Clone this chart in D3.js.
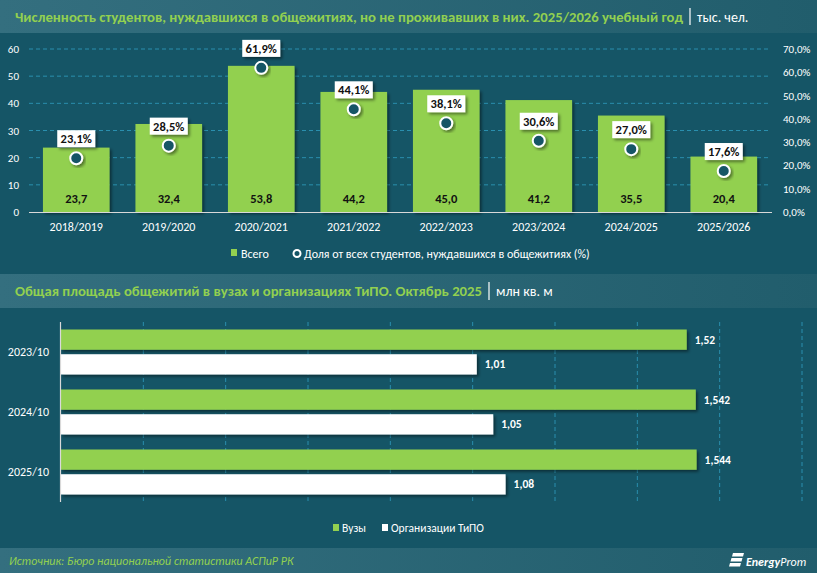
<!DOCTYPE html>
<html>
<head>
<meta charset="utf-8">
<script src="https://cdn.jsdelivr.net/npm/d3@7"></script>
<style>
  html, body { margin: 0; padding: 0; background: #155566; }
  svg { display: block; }
  text { font-family: Carlito, "Liberation Sans", Arial, sans-serif; }
</style>
</head>
<body>
<div id="vis"></div>
<script>
// top chart: students who needed a dorm but did not live in one
const years = ["2018/2019", "2019/2020", "2020/2021", "2021/2022", "2022/2023", "2023/2024", "2024/2025", "2025/2026"];
const total = [23.7, 32.4, 53.8, 44.2, 45.0, 41.2, 35.5, 20.4];
const share = [23.1, 28.5, 61.9, 44.1, 38.1, 30.6, 27.0, 17.6];
const leftTicks = [0, 10, 20, 30, 40, 50, 60];
const rightTicks = [0, 10, 20, 30, 40, 50, 60, 70];

// bottom chart: total dorm area, mln sq m
const periods = ["2023/10", "2024/10", "2025/10"];
const vuzy = [1.52, 1.542, 1.544];
const tipo = [1.01, 1.05, 1.08];
const areaTicks = [0, 0.2, 0.4, 0.6, 0.8, 1.0, 1.2, 1.4, 1.6, 1.8];

const W = 817, H = 573;
const green = "#92d050", bg = "#155566", grid = "#2a8fae";
const comma = v => String(v).replace(".", ",");

const svg = d3.select("#vis").append("svg")
    .attr("width", W)
    .attr("height", H);

const defs = svg.append("defs");
const grad = defs.append("linearGradient").attr("id", "band");
grad.append("stop").attr("offset", "0%").attr("stop-color", "#346f7f");
grad.append("stop").attr("offset", "100%").attr("stop-color", "#215d6c");
defs.append("filter").attr("id", "shadow")
    .attr("x", "-20%").attr("y", "-20%").attr("width", "150%").attr("height", "150%")
    .append("feDropShadow")
    .attr("dx", 2).attr("dy", 2).attr("stdDeviation", 1.6)
    .attr("flood-color", "#000").attr("flood-opacity", 0.45);

svg.append("rect").attr("width", W).attr("height", H).attr("fill", bg);

// header bands
function header(y0, h, title, unit, titleW) {
  svg.append("rect").attr("x", 0).attr("y", y0).attr("width", W).attr("height", h).attr("fill", "url(#band)");
  const cy = y0 + h / 2 + 5;
  svg.append("text").attr("x", 15).attr("y", cy)
      .attr("fill", green).attr("font-weight", "bold").attr("font-size", 14)
      .attr("textLength", titleW).attr("lengthAdjust", "spacingAndGlyphs")
      .text(title);
  svg.append("line").attr("x1", 15 + titleW + 7).attr("x2", 15 + titleW + 7)
      .attr("y1", y0 + 8).attr("y2", y0 + h - 8)
      .attr("stroke", "#fff").attr("stroke-width", 1.2);
  svg.append("text").attr("x", 15 + titleW + 14).attr("y", cy)
      .attr("fill", "#fff").attr("font-size", 14)
      .text(unit);
}
header(0, 33, "Численность студентов, нуждавшихся в общежитиях, но не проживавших в них. 2025/2026 учебный год", "тыс. чел.", 668);
header(274, 34, "Общая площадь общежитий в вузах и организациях ТиПО. Октябрь 2025", "млн кв. м", 467);

// ---------- top chart ----------
const x = d3.scaleBand().domain(years).range([30, 770]).paddingInner(0.28).paddingOuter(0.14);
const y = d3.scaleLinear().domain([0, 60]).range([212, 49]);
const yR = d3.scaleLinear().domain([0, 70]).range([212, 49]);

const topG = svg.append("g");

topG.append("g").selectAll("line").data(leftTicks.slice(1)).join("line")
    .attr("x1", 29).attr("x2", 770)
    .attr("y1", d => y(d)).attr("y2", d => y(d))
    .attr("stroke", grid).attr("stroke-dasharray", "4,3").attr("stroke-width", 1);

topG.append("g").selectAll("text").data(leftTicks).join("text")
    .attr("x", 19).attr("y", d => y(d) + 4)
    .attr("text-anchor", "end").attr("fill", "#fff").attr("font-size", 11)
    .text(d => d);

topG.append("g").selectAll("text").data(rightTicks).join("text")
    .attr("x", 783).attr("y", d => yR(d) + 4)
    .attr("fill", "#fff").attr("font-size", 11)
    .text(d => d.toFixed(1).replace(".", ",") + "%");

topG.append("g").selectAll("rect").data(years).join("rect")
    .attr("x", d => x(d)).attr("width", x.bandwidth())
    .attr("y", (d, i) => y(total[i])).attr("height", (d, i) => y(0) - y(total[i]))
    .attr("fill", green).attr("filter", "url(#shadow)");

topG.append("line").attr("x1", 29).attr("x2", 772).attr("y1", 212.5).attr("y2", 212.5)
    .attr("stroke", "#d9d9d9").attr("stroke-width", 1.2);

topG.append("g").selectAll("text").data(years).join("text")
    .attr("x", d => x(d) + x.bandwidth() / 2).attr("y", 203)
    .attr("text-anchor", "middle").attr("font-weight", "bold").attr("font-size", 12.5).attr("fill", "#111")
    .text((d, i) => total[i].toFixed(1).replace(".", ","));

topG.append("g").selectAll("text").data(years).join("text")
    .attr("x", d => x(d) + x.bandwidth() / 2).attr("y", 231)
    .attr("text-anchor", "middle").attr("fill", "#fff").attr("font-size", 12)
    .text(d => d);

// share markers with boxed labels
const mk = topG.append("g").selectAll("g").data(years).join("g")
    .attr("transform", (d, i) => `translate(${x(d) + x.bandwidth() / 2},${yR(share[i])})`);
mk.append("circle").attr("r", 6)
    .attr("fill", bg).attr("stroke", "#fff").attr("stroke-width", 2)
    .attr("filter", "url(#shadow)");
mk.append("rect").attr("x", -19).attr("y", -28).attr("width", 38).attr("height", 17)
    .attr("fill", "#fff").attr("filter", "url(#shadow)");
mk.append("text").attr("y", -15)
    .attr("text-anchor", "middle").attr("font-weight", "bold").attr("font-size", 12.5).attr("fill", "#111")
    .text((d, i) => share[i].toFixed(1).replace(".", ",") + "%");

// legend
const lg = topG.append("g");
lg.append("rect").attr("x", 231).attr("y", 249).attr("width", 6).attr("height", 7).attr("fill", green);
lg.append("text").attr("x", 241).attr("y", 258).attr("fill", "#fff").attr("font-size", 12).text("Всего");
lg.append("circle").attr("cx", 297).attr("cy", 253.5).attr("r", 3.5)
    .attr("fill", bg).attr("stroke", "#fff").attr("stroke-width", 2);
lg.append("text").attr("x", 304).attr("y", 258).attr("fill", "#fff").attr("font-size", 12)
    .text("Доля от всех студентов, нуждавшихся в общежитиях (%)");

// ---------- bottom chart ----------
const xa = d3.scaleLinear().domain([0, 1.8]).range([61, 802]);
const yg = d3.scaleBand().domain(periods).range([322, 502]).paddingInner(0.25).paddingOuter(0.125);
const ys = d3.scaleBand().domain(["vuzy", "tipo"]).range([0, yg.bandwidth()]).paddingInner(0.18);

const botG = svg.append("g");

botG.append("g").selectAll("line").data(areaTicks.slice(1)).join("line")
    .attr("x1", d => xa(d)).attr("x2", d => xa(d))
    .attr("y1", 322).attr("y2", 502)
    .attr("stroke", grid).attr("stroke-dasharray", "4,3").attr("stroke-width", 1);

const grp = botG.append("g").selectAll("g").data(periods).join("g")
    .attr("transform", d => `translate(0,${yg(d)})`);

grp.append("rect").attr("x", xa(0)).attr("y", ys("vuzy"))
    .attr("width", (d, i) => xa(vuzy[i]) - xa(0)).attr("height", ys.bandwidth())
    .attr("fill", green).attr("filter", "url(#shadow)");
grp.append("rect").attr("x", xa(0)).attr("y", ys("tipo"))
    .attr("width", (d, i) => xa(tipo[i]) - xa(0)).attr("height", ys.bandwidth())
    .attr("fill", "#fff").attr("filter", "url(#shadow)");

grp.append("text").attr("x", (d, i) => xa(vuzy[i]) + 8).attr("y", ys("vuzy") + ys.bandwidth() / 2 + 4)
    .attr("fill", "#fff").attr("font-weight", "bold").attr("font-size", 11.5)
    .text((d, i) => comma(vuzy[i]));
grp.append("text").attr("x", (d, i) => xa(tipo[i]) + 8).attr("y", ys("tipo") + ys.bandwidth() / 2 + 4)
    .attr("fill", "#fff").attr("font-weight", "bold").attr("font-size", 11.5)
    .text((d, i) => comma(tipo[i]));

grp.append("text").attr("x", 49).attr("y", yg.bandwidth() / 2 + 4)
    .attr("text-anchor", "end").attr("fill", "#fff").attr("font-size", 12)
    .text(d => d);

botG.append("line").attr("x1", 60.5).attr("x2", 60.5).attr("y1", 322).attr("y2", 502)
    .attr("stroke", "#d9d9d9").attr("stroke-width", 1.2);

const lg2 = botG.append("g");
lg2.append("rect").attr("x", 333).attr("y", 524).attr("width", 6).attr("height", 7).attr("fill", green);
lg2.append("text").attr("x", 342).attr("y", 532).attr("fill", "#fff").attr("font-size", 11.5).text("Вузы");
lg2.append("rect").attr("x", 382).attr("y", 524).attr("width", 6).attr("height", 7).attr("fill", "#fff");
lg2.append("text").attr("x", 391).attr("y", 532).attr("fill", "#fff").attr("font-size", 11.5).text("Организации ТиПО");

// ---------- footer ----------
svg.append("rect").attr("x", 0).attr("y", 548).attr("width", W).attr("height", 25).attr("fill", "url(#band)");
svg.append("text").attr("x", 9).attr("y", 565)
    .attr("fill", green).attr("font-style", "italic").attr("font-size", 12)
    .text("Источник: Бюро национальной статистики АСПиР РК");

const logo = svg.append("g").attr("transform", "translate(730,553)");
[0, 5, 10].forEach(dy => {
  logo.append("path")
      .attr("d", `M${3 - dy * 0.3},${dy} h11 l-1,3.5 h-11 z`)
      .attr("fill", "#fff");
});
logo.append("text").attr("x", 16).attr("y", 13)
    .attr("fill", "#fff").attr("font-style", "italic").attr("font-size", 12)
    .html('<tspan font-weight="bold">Energy</tspan>Prom');
</script>
</body>
</html>
